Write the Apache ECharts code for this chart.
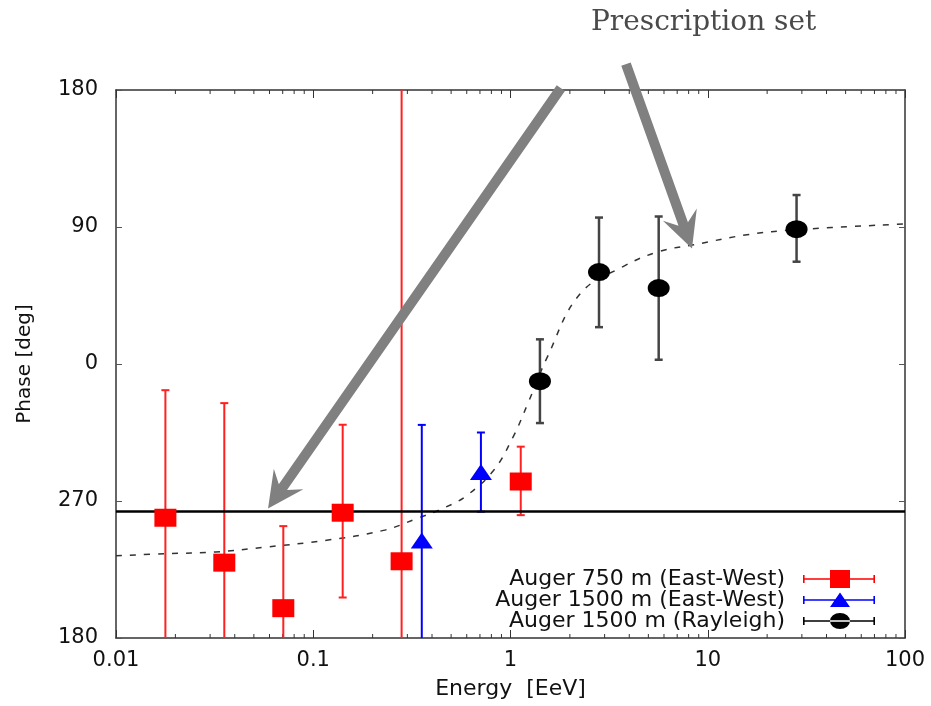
<!DOCTYPE html>
<html>
<head>
<meta charset="utf-8">
<script src="https://cdn.jsdelivr.net/npm/echarts@6/dist/echarts.min.js"></script>
<style>html,body{margin:0;padding:0;background:#fff;}#c{width:931px;height:706px;}</style>
</head>
<body>
<div id="c"></div>
<script>
// ---- data ----
const xTickLabels = ['0.01', '0.1', '1', '10', '100'];
const yTickLabels = ['180', '270', '0', '90', '180']; // at -180,-90,0,90,180

const redName = 'Auger 750 m (East-West)';
const redE   = [0.0178, 0.0354, 0.0705, 0.141, 0.2805, 1.127];
const redY   = [-101, -130.5, -160.4, -97.7, -129.6, -77.2];
const redHi  = [-17.2, -25.7, -106.5, -39.9, 200, -54.3];
const redLo  = [-200, -200, -200, -153.4, -200, -99.3];

const blueName = 'Auger 1500 m (East-West)';
const blueE  = [0.355, 0.708];
const blueY  = [-116, -71];
const blueHi = [-40, -45];
const blueLo = [-200, -97];

const blackName = 'Auger 1500 m (Rayleigh)';
const blackE  = [1.41, 2.81, 5.64, 28.2];
const blackY  = [-11.3, 60.4, 49.9, 88.6];
const blackHi = [16.2, 96.2, 96.9, 111];
const blackLo = [-38.8, 24.2, 2.8, 67.2];

const fitE = [0.01, 0.018, 0.032, 0.058, 0.117, 0.227, 0.333, 0.47, 0.6, 0.82, 1.03, 1.23, 1.53, 2.25, 3.72, 5.7, 8.5, 15.8, 28.2, 100];
const fitY = [-126, -124.6, -123.5, -120.2, -115.8, -109.3, -101.7, -94, -86.4, -70, -48, -25.3, 4, 46, 64, 74, 78.3, 84.9, 88.2, 92];

const prescriptionPhase = -97;
const minorTickE = [0.02,0.03,0.04,0.05,0.06,0.07,0.08,0.09,
                    0.2,0.3,0.4,0.5,0.6,0.7,0.8,0.9,
                    2,3,4,5,6,7,8,9,
                    20,30,40,50,60,70,80,90];
const titleText = 'Prescription set';
// annotation arrows in data coordinates [E, phase]
const arrow1 = {tail: [1.80, 181.3], tip: [0.059, -94.9]};
const arrow2 = {tail: [3.85, 197], tip: [8.32, 75.9]};

// ---- chart ----
const FONT = 'DejaVu Sans';
const chart = echarts.init(document.getElementById('c'), null, {renderer: 'canvas'});

function xLabel(v) {
  const i = Math.round(Math.log10(v)) + 2;
  return xTickLabels[i] !== undefined ? xTickLabels[i] : '';
}
function yLabel(v) {
  const i = Math.round((v + 180) / 90);
  return yTickLabels[i] !== undefined ? yTickLabels[i] : '';
}

function errRender(color, w, cap) {
  return function (params, api) {
    const x = api.value(0), lo = api.value(1), hi = api.value(2);
    const a = api.coord([x, lo]), b = api.coord([x, hi]);
    const st = {stroke: color, lineWidth: w};
    return {type: 'group', children: [
      {type: 'line', shape: {x1: a[0], y1: a[1], x2: b[0], y2: b[1]}, style: st},
      {type: 'line', shape: {x1: a[0] - cap, y1: a[1], x2: a[0] + cap, y2: a[1]}, style: st},
      {type: 'line', shape: {x1: b[0] - cap, y1: b[1], x2: b[0] + cap, y2: b[1]}, style: st}
    ]};
  };
}
function zip3(a, b, c) { return a.map((v, i) => [v, b[i], c[i]]); }
function zip2(a, b) { return a.map((v, i) => [v, b[i]]); }

const axisLineStyle = {color: '#333', width: 1.5};
// icon box 72 x 18 (bounds fixed by zero-size subpaths)
const iconBar = 'M0,0L0,0z M72,18L72,18z M0,8.2h72v1.6h-72z M0,5h1.6v8h-1.6z M70.4,5h1.6v8h-1.6z ';
const legendIcons = {
  red: 'path://' + iconBar + 'M27,0h20v18h-20z',
  blue: 'path://' + iconBar + 'M27,16L37,1.5L47,16z',
  black: 'path://' + iconBar + 'M27,9a10,8 0 1,0 20,0a10,8 0 1,0 -20,0z'
};

const option = {
  animation: false,
  backgroundColor: '#fff',
  title: {
    text: titleText, left: 586, top: 4,
    textStyle: {fontFamily: 'DejaVu Serif', fontSize: 28, fontWeight: 'normal', color: '#4a4a4a'}
  },
  grid: {left: 116, right: 26, top: 90, bottom: 68, containLabel: false},
  legend: {
    orient: 'vertical', align: 'right', right: 56, top: 568, padding: 0,
    itemWidth: 72, itemHeight: 18, itemGap: -1,
    textStyle: {fontFamily: FONT, fontSize: 22, lineHeight: 18, color: '#111', padding: [0, 13, 0, 0]},
    data: [
      {name: redName, icon: legendIcons.red},
      {name: blueName, icon: legendIcons.blue},
      {name: blackName, icon: legendIcons.black}
    ],
    selectedMode: false
  },
  xAxis: [{
    type: 'log', logBase: 10, min: 0.01, max: 100, position: 'bottom',
    name: 'Energy  [EeV]', nameLocation: 'middle', nameGap: 40,
    nameTextStyle: {fontFamily: FONT, fontSize: 22, color: '#111'},
    axisLine: {onZero: false, lineStyle: axisLineStyle},
    axisTick: {inside: true, length: 8, lineStyle: {color: '#333', width: 1}},
    axisLabel: {margin: 12, formatter: xLabel, fontFamily: FONT, fontSize: 21, color: '#111'},
    splitLine: {show: false}
  }, {
    type: 'log', logBase: 10, min: 0.01, max: 100, position: 'top',
    axisLine: {onZero: false, lineStyle: axisLineStyle},
    axisTick: {inside: true, length: 8, lineStyle: {color: '#333', width: 1}},
    axisLabel: {show: false}, splitLine: {show: false}
  }],
  yAxis: [{
    type: 'value', min: -180, max: 180, interval: 90, position: 'left',
    name: 'Phase [deg]', nameLocation: 'middle', nameGap: 81, nameRotate: 90,
    nameTextStyle: {fontFamily: FONT, fontSize: 20, color: '#111'},
    axisLine: {show: true, onZero: false, lineStyle: axisLineStyle},
    axisTick: {show: true, inside: true, length: 6, lineStyle: {color: '#555', width: 1}},
    axisLabel: {margin: 18, formatter: yLabel, fontFamily: FONT, fontSize: 21, color: '#111'},
    splitLine: {show: false}
  }, {
    type: 'value', min: -180, max: 180, interval: 90, position: 'right',
    axisLine: {show: true, onZero: false, lineStyle: axisLineStyle},
    axisTick: {show: true, inside: true, length: 6, lineStyle: {color: '#555', width: 1}},
    axisLabel: {show: false}, splitLine: {show: false}
  }],
  series: [
    {
      type: 'custom', name: 'minorTicks', silent: true, clip: false, z: 1,
      data: minorTickE.map(v => [v, 0]),
      renderItem: function (params, api) {
        const v = api.value(0);
        const b = api.coord([v, -180]), t = api.coord([v, 180]);
        const st = {stroke: '#333', lineWidth: 1};
        return {type: 'group', children: [
          {type: 'line', shape: {x1: b[0], y1: b[1], x2: b[0], y2: b[1] - 4}, style: st},
          {type: 'line', shape: {x1: t[0], y1: t[1], x2: t[0], y2: t[1] + 4}, style: st}
        ]};
      }
    },
    {
      type: 'line', name: 'fit', data: zip2(fitE, fitY), smooth: 0.4, showSymbol: false, symbol: 'none',
      silent: true, z: 2,
      lineStyle: {color: '#333', width: 1.5, type: [6, 8]},
      markLine: {
        silent: true, symbol: 'none', label: {show: false},
        lineStyle: {color: '#000', width: 2.5, type: 'solid'},
        data: [{yAxis: prescriptionPhase}]
      }
    },
    {type: 'custom', name: redName + ' err', clip: true, z: 3, silent: true,
     encode: {x: 0, y: [1, 2]},
     data: zip3(redE, redLo, redHi), renderItem: errRender('#ff2020', 2, 4)},
    {type: 'custom', name: blueName + ' err', clip: true, z: 3, silent: true,
     encode: {x: 0, y: [1, 2]},
     data: zip3(blueE, blueLo, blueHi), renderItem: errRender('#0000ff', 2, 4)},
    {type: 'custom', name: blackName + ' err', clip: true, z: 3, silent: true,
     encode: {x: 0, y: [1, 2]},
     data: zip3(blackE, blackLo, blackHi), renderItem: errRender('#444', 2.5, 4)},
    {type: 'scatter', name: redName, data: zip2(redE, redY), symbol: 'rect', symbolSize: [22, 18],
     itemStyle: {color: '#ff0000', opacity: 1}, z: 5},
    {type: 'scatter', name: blueName, data: zip2(blueE, blueY), symbol: 'triangle', symbolSize: [22, 16],
     itemStyle: {color: '#0000ff', opacity: 1}, z: 5},
    {type: 'scatter', name: blackName, data: zip2(blackE, blackY), symbol: 'circle', symbolSize: [22, 18],
     itemStyle: {color: '#000000', opacity: 1}, z: 5}
  ]
};
chart.setOption(option);

function arrowPoly(tail, tip, w, headLen, hw, notch) {
  const dx = tip[0] - tail[0], dy = tip[1] - tail[1];
  const L = Math.hypot(dx, dy);
  const ux = dx / L, uy = dy / L, nx = -uy, ny = ux;
  const P = (base, along, side) => [base[0] + ux * along + nx * side, base[1] + uy * along + ny * side];
  return [
    P(tail, 0, w / 2),
    P(tip, -(headLen - notch), w / 2),
    P(tip, -headLen, hw),
    [tip[0], tip[1]],
    P(tip, -headLen, -hw),
    P(tip, -(headLen - notch), -w / 2),
    P(tail, 0, -w / 2)
  ];
}
function toPx(p) { return chart.convertToPixel({xAxisIndex: 0, yAxisIndex: 0}, p); }
const arrows = [arrow1, arrow2].map(a => ({
  type: 'polygon', z: 4, silent: true,
  shape: {points: arrowPoly(toPx(a.tail), toPx(a.tip), 10, 36, 18, 10)},
  style: {fill: '#808080'}
}));
chart.setOption({graphic: arrows});
</script>
</body>
</html>
